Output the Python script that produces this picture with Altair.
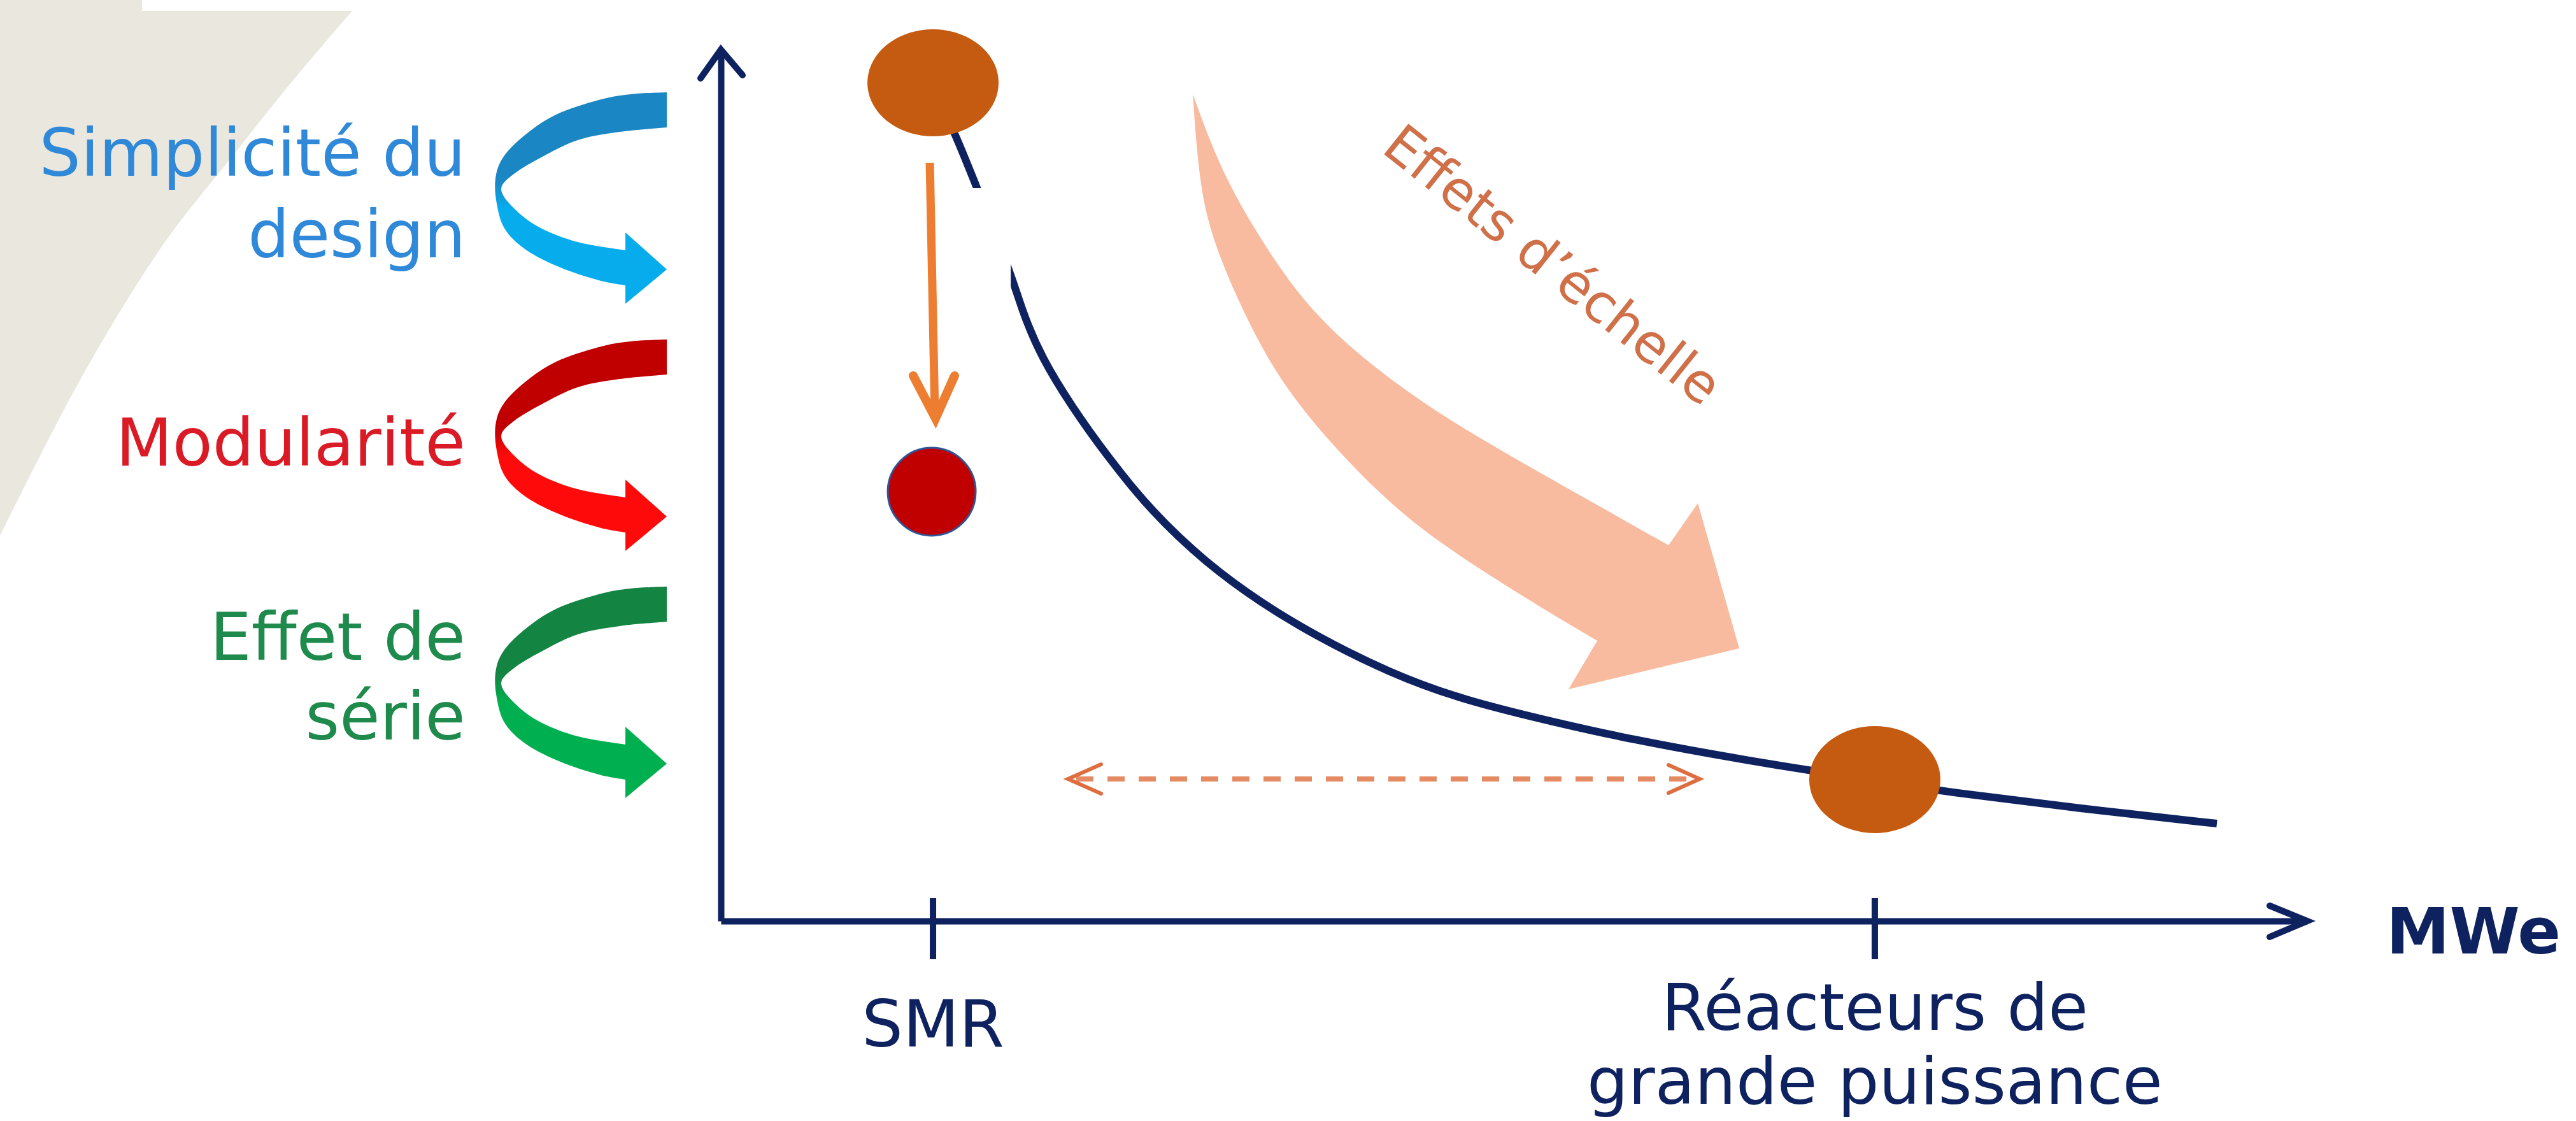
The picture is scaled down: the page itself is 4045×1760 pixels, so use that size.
import math
import altair as alt
import pandas as pd

# ---------------------------------------------------------------------------
# Frame: x = installed power (arbitrary 0-100), y = cost per MWe (0-100)
# ---------------------------------------------------------------------------
PLOT_W, PLOT_H = 2491, 1368
PAD = {"left": 1132, "top": 78, "right": 422, "bottom": 314}

NAVY = "#0E2260"
ORANGE_DOT = "#C55A11"
SALMON = "#F9BB9F"
FONT = "DejaVu Sans"

# Cost curve
curve_x = [13.57, 14.73, 16.14, 18.27, 19.07, 20.23, 22.08, 24.37, 27.14, 30.59,
           34.08, 37.54, 42.11, 46.73, 52.91, 57.21, 64.39, 73.34, 77.48, 85.87, 94.30]
curve_y = [94.74, 90.57, 84.14, 74.42, 69.59, 64.62, 59.14, 53.29, 47.00, 41.08,
           36.48, 32.68, 28.51, 25.37, 22.66, 20.91, 18.49, 15.94, 14.77, 12.87, 11.18]

# Reactor classes on the x axis
class_x = [13.37, 72.74]
class_cost = [96.20, 16.23]
class_labels = [["SMR"], ["Réacteurs de", "grande puissance"]]
class_label_y = [-14.40, -12.50]

# SMR cost once design, modularity and series effects apply
smr_target = (13.29, 49.27)

# Levers listed on the left
lever_lines = ["Simplicité du", "design", "Modularité", "Effet de", "série"]
lever_line_y = [85.53, 76.17, 52.27, 29.97, 20.83]
lever_line_color = ["#2F88D8", "#2F88D8", "#DA1A24", "#1E8A4C", "#1E8A4C"]
lever_arrow_y = [95.10, 66.74, 38.38]
lever_gradients = [("#1A86C3", "#06ACEC"), ("#C00000", "#FF0A0A"), ("#148443", "#00B050")]

X = alt.X("x:Q", scale=alt.Scale(domain=[0, 100], nice=False, zero=False),
          axis=alt.Axis(title=None, labels=False, ticks=False, grid=False,
                        domainColor=NAVY, domainWidth=10))
Y = alt.Y("y:Q", scale=alt.Scale(domain=[0, 100], nice=False, zero=False),
          axis=alt.Axis(title=None, labels=False, ticks=False, grid=False,
                        domainColor=NAVY, domainWidth=10))


def smooth(pts):
    """Catmull-Rom through pts, as cubic Bezier commands (current point = pts[0])."""
    out = []
    n = len(pts)
    for i in range(n - 1):
        p0, p1 = pts[max(i - 1, 0)], pts[i]
        p2, p3 = pts[i + 1], pts[min(i + 2, n - 1)]
        c1 = (p1[0] + (p2[0] - p0[0]) / 6, p1[1] + (p2[1] - p0[1]) / 6)
        c2 = (p2[0] - (p3[0] - p1[0]) / 6, p2[1] - (p3[1] - p1[1]) / 6)
        out.append("C%.1f,%.1f,%.1f,%.1f,%.1f,%.1f" % (c1 + c2 + p2))
    return "".join(out)


def basis(pts):
    """Uniform B-spline through the end points of pts (same rule as d3.curveBasis)."""
    out = []

    def seg(a, b, c):
        return "C%.1f,%.1f,%.1f,%.1f,%.1f,%.1f" % (
            (2 * a[0] + b[0]) / 3, (2 * a[1] + b[1]) / 3,
            (a[0] + 2 * b[0]) / 3, (a[1] + 2 * b[1]) / 3,
            (a[0] + 4 * b[0] + c[0]) / 6, (a[1] + 4 * b[1] + c[1]) / 6)

    p0 = p1 = None
    for k, p in enumerate(pts):
        if k == 2:
            out.append("L%.1f,%.1f" % ((5 * p0[0] + p1[0]) / 6, (5 * p0[1] + p1[1]) / 6))
        if k >= 2:
            out.append(seg(p0, p1, p))
        p0, p1 = p1, p
    if len(pts) >= 3:
        out.append(seg(p0, p1, p1))
    out.append("L%.1f,%.1f" % p1)
    return "".join(out)


def lines(pts):
    return "".join("L%.1f,%.1f" % p for p in pts)


def at(x, y, **extra):
    d = {"x": [x], "y": [y]}
    d.update({k: [v] for k, v in extra.items()})
    return pd.DataFrame(d)


# --- shapes (pixel offsets from their anchor point) --------------------------
corner_edge = [(553, 17), (461, 125), (361, 250), (269, 366), (192, 483),
               (115, 616), (46, 749), (0, 841)]
corner_path = "M-5,-5L223,-5L223,17L553,17" + smooth(corner_edge) + "L-5,841Z"

ribbon_outer = [(0, 0), (-57, 3), (-107, 12), (-174, 35), (-224, 68), (-257, 102),
                (-269, 135), (-267, 175), (-254, 215), (-220, 248), (-167, 275),
                (-107, 295), (-65, 303)]
ribbon_head = [(-65, 332), (0, 278), (-65, 220)]
ribbon_inner = [(-65, 248), (-140, 235), (-200, 212), (-240, 182), (-260, 152),
                (-240, 128), (-197, 102), (-140, 75), (-74, 62), (0, 55)]
ribbon_path = ("M0,0" + smooth(ribbon_outer) + lines(ribbon_head)
               + "L%.1f,%.1f" % ribbon_inner[0] + smooth(ribbon_inner) + "Z")

scale_upper = [(0, 0), (39, 107), (90, 202), (165, 317), (251, 403), (366, 489),
               (481, 558), (614, 633), (747, 708)]
scale_head = [(793, 642), (858, 870), (590, 934)]
scale_lower = [(635, 858), (557, 812), (481, 765), (366, 690), (280, 615),
               (194, 523), (125, 432), (67, 317), (21, 202), (7, 102), (0, 0)]
scale_path = ("M0,0" + basis(scale_upper) + lines(scale_head)
              + "L%.1f,%.1f" % scale_lower[0] + basis(scale_lower) + "Z")

ellipse_path = "M" + "L".join(
    "%.1f,%.1f" % (103 * math.cos(2 * math.pi * k / 72), 84 * math.sin(2 * math.pi * k / 72))
    for k in range(72)) + "Z"

# --- layers ----------------------------------------------------------------
corner = alt.Chart(at(-45.44, 105.70)).mark_point(
    shape=corner_path, size=4, filled=True, fill="#EAE8DE", opacity=1, strokeWidth=0
).encode(x=X, y=Y)

scale_arrow = alt.Chart(at(29.75, 94.88)).mark_point(
    shape=scale_path, size=4, filled=True, fill=SALMON, opacity=1, strokeWidth=0
).encode(x=X, y=Y)

scale_text = alt.Chart(at(41.55, 88.38, t="Effets d’échelle")).mark_text(
    font=FONT, fontSize=84, angle=38.5, align="left", baseline="alphabetic",
    color="#CF7049"
).encode(x=X, y=Y, text="t:N")

span = alt.Chart(pd.DataFrame({"x": [22.40], "x2": [61.14], "y": [16.30], "y2": [16.30]})).mark_rule(
    color="#E58B64", strokeWidth=8, strokeDash=[27, 22]
).encode(x=X, x2="x2:Q", y=Y, y2="y2:Q")

curve = alt.Chart(pd.DataFrame({"x": curve_x, "y": curve_y})).mark_line(
    color=NAVY, strokeWidth=12, interpolate="basis"
).encode(x=X, y=Y)

mask = alt.Chart(pd.DataFrame({"x": [13.32], "x2": [18.27], "y": [84.14], "y2": [32.6]})).mark_rect(
    color="white", opacity=1
).encode(x=X, x2="x2:Q", y=Y, y2="y2:Q")

classes = alt.Chart(pd.DataFrame({"x": class_x, "y": class_cost})).mark_point(
    shape=ellipse_path, size=4, filled=True, fill=ORANGE_DOT, opacity=1, strokeWidth=0
).encode(x=X, y=Y)

shaft = alt.Chart(pd.DataFrame({"x": [13.17], "x2": [13.49], "y": [86.99], "y2": [58.19]})).mark_rule(
    color="#ED7D31", strokeWidth=13
).encode(x=X, x2="x2:Q", y=Y, y2="y2:Q")

# symbol size = square of the diameter in Vega
target = alt.Chart(at(*smr_target)).mark_point(
    shape="circle", size=138 ** 2, filled=True, fill="#C00000", stroke="#2F5597",
    strokeWidth=3, opacity=1
).encode(x=X, y=Y)

heads = alt.Chart(pd.DataFrame({
    "x": [0, 100, 21.88, 61.70, 13.53],
    "y": [100, 0, 16.30, 16.30, 57.68],
    "path": ["M-32,45L0,0L34,40", "M-59,-24L0,0L-59,25",
             "M52,-23L0,0L52,23", "M-49,-22L0,0L-49,22", "M-35,-67L0,0L30,-67"],
    "col": [NAVY, NAVY, "#DE6D40", "#DE6D40", "#ED7D31"],
    "w": [10, 10, 6, 6, 14],
})).mark_point(size=4, filled=False, opacity=1, strokeCap="round", strokeJoin="miter").encode(
    x=X, y=Y,
    shape=alt.Shape("path:N", scale=None),
    stroke=alt.Stroke("col:N", scale=None),
    strokeWidth=alt.StrokeWidth("w:Q", scale=None),
)

ribbons = []
for ay, (dark, light) in zip(lever_arrow_y, lever_gradients):
    grad = alt.LinearGradient(
        gradient="linear", x1=0, y1=0, x2=0, y2=1,
        stops=[alt.GradientStop(color=dark, offset=0), alt.GradientStop(color=dark, offset=0.42),
               alt.GradientStop(color=light, offset=0.55), alt.GradientStop(color=light, offset=1)])
    ribbons.append(alt.Chart(at(-3.41, ay)).mark_point(
        shape=ribbon_path, size=4, filled=True, fill=grad, opacity=1, strokeWidth=0
    ).encode(x=X, y=Y))

ticks = alt.Chart(pd.DataFrame({"x": class_x, "y": [2.63, 2.63], "y2": [-4.39, -4.39]})).mark_rule(
    color=NAVY, strokeWidth=10
).encode(x=X, y=Y, y2="y2:Q")

label_rows = []
for cx, lines_, base in zip(class_x, class_labels, class_label_y):
    for i, s in enumerate(lines_):
        label_rows.append({"x": cx, "y": base - 8.48 * i, "t": s})
class_text = alt.Chart(pd.DataFrame(label_rows)).mark_text(
    font=FONT, fontSize=102, align="center", baseline="alphabetic", color=NAVY
).encode(x=X, y=Y, text="t:N")

unit_text = alt.Chart(at(104.98, -3.73, t="MWe")).mark_text(
    font=FONT, fontSize=100, fontWeight="bold", align="left", baseline="alphabetic", color=NAVY
).encode(x=X, y=Y, text="t:N")

lever_text = alt.Chart(pd.DataFrame({
    "x": [-16.10] * len(lever_lines), "y": lever_line_y, "t": lever_lines, "c": lever_line_color
})).mark_text(font=FONT, fontSize=103, align="right", baseline="alphabetic").encode(
    x=X, y=Y, text="t:N", color=alt.Color("c:N", scale=None)
)

chart = alt.layer(
    corner, scale_arrow, scale_text, span, curve, mask, classes, shaft, target,
    heads, *ribbons, ticks, class_text, unit_text, lever_text
).properties(
    width=PLOT_W, height=PLOT_H, padding=PAD,
    autosize=alt.AutoSizeParams(type="none"), background="white"
).configure_view(strokeWidth=0)

chart.save("out.html", embed_options={"renderer": "svg", "actions": False})
